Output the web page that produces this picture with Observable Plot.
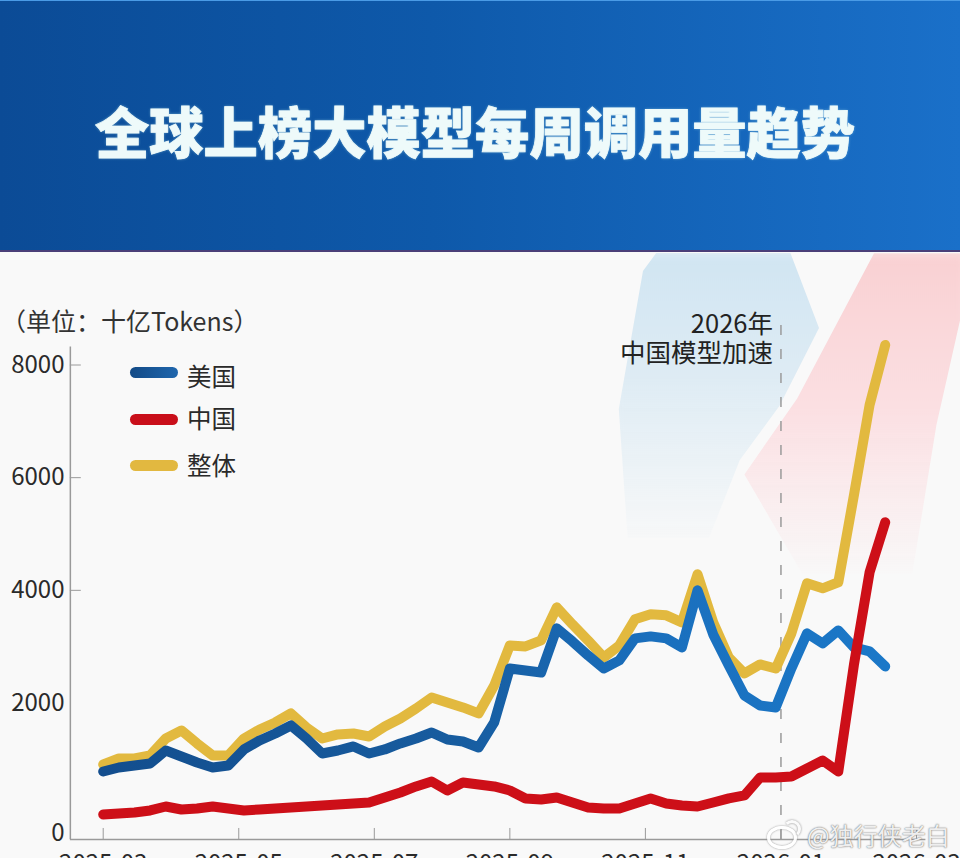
<!DOCTYPE html>
<html lang="zh">
<head>
<meta charset="utf-8">
<script src="https://cdn.jsdelivr.net/npm/d3@7"></script>
<script src="https://cdn.jsdelivr.net/npm/@observablehq/plot@0.6"></script>
<style>
  html, body { margin: 0; padding: 0; width: 960px; height: 858px; overflow: hidden; background: #f9f9f9;
    font-family: "Noto Sans CJK SC", sans-serif; }
  #page { position: relative; width: 960px; height: 858px; overflow: hidden; }
  #header { position: absolute; left: 0; top: 0; width: 960px; height: 252px; box-sizing: border-box;
    background: linear-gradient(90deg, #0b4b96 0%, #0e59aa 45%, #1a70c9 100%);
    border-top: 1px solid #4a9be6; border-bottom: 2px solid #4a3f78; }
  #title { position: absolute; left: 95px; top: 95px; margin: 0; font-size: 54.3px; line-height: 68px; font-weight: 900;
    color: #eefafa; white-space: nowrap; -webkit-text-stroke: 0.8px #eefafa; text-shadow: 0 0 3px rgba(190,240,240,.6); }
  .bg { position: absolute; filter: blur(6px); }
  #bgBlue { left: 610px; top: 250px; width: 220px; height: 300px;
    background: linear-gradient(180deg, #d0e5f2 0%, #dfecf4 45%, rgba(235,243,248,0) 100%);
    clip-path: polygon(15% 7%, 21% 1%, 82% 1%, 95% 26%, 77% 52%, 59% 70%, 45% 96%, 8% 96%, 4% 53%); }
  #bgPink { left: 730px; top: 250px; width: 240px; height: 330px;
    background: linear-gradient(180deg, #f9d0d2 0%, #fbe0e3 50%, rgba(250,238,240,0) 100%);
    clip-path: polygon(60% 1%, 100% 1%, 100% 8%, 86% 53%, 76% 98%, 30% 98%, 6% 68%, 28% 45%); }
  #header { z-index: 2; }
  #chart { position: absolute; left: 0; top: 252px; }
  #chart svg { overflow: visible; background: transparent; display: block; }
  #unit { position: absolute; left: 1px; top: 302px; font-size: 25px; line-height: 36px; color: #333; white-space: nowrap; }
  .lg { position: absolute; left: 187px; font-size: 24.5px; line-height: 34px; color: #2a2a2a; white-space: nowrap; }
  .sw { position: absolute; left: 130px; width: 48px; height: 11px; border-radius: 5.5px; }
  #wm { position: absolute; left: 807px; top: 818px; font-size: 24px; line-height: 34px; color: rgba(255,255,255,.9);
    white-space: nowrap; text-shadow: 0 0 1px #777, 0 0 2px #888; }
  #wmLogo { position: absolute; left: 767px; top: 826px; width: 24px; height: 17px; border-radius: 50%;
    border: 3px solid rgba(255,255,255,.95); box-shadow: 0 0 2px #888, inset 0 0 2px #888; }
  #wmArc { position: absolute; left: 783px; top: 820px; width: 12px; height: 12px; border-radius: 50%;
    border-top: 3px solid rgba(255,255,255,.95); border-right: 3px solid rgba(255,255,255,.95); border-left: 3px solid transparent; border-bottom: 3px solid transparent;
    filter: drop-shadow(0 0 1px #888); }
</style>
</head>
<body>
<div id="page">
  <div id="header"><h1 id="title"></h1></div>
  <div class="bg" id="bgBlue"></div>
  <div class="bg" id="bgPink"></div>
  <div id="chart"></div>
  <div id="unit"></div>
  <div id="legend"></div>
  <div id="wmLogo"></div>
  <div id="wmArc"></div>
  <div id="wm"></div>
</div>
<script>
const titleText = "全球上榜大模型每周调用量趋势";
const unitText = "（单位：十亿Tokens）";
const noteLines = ["2026年", "中国模型加速"];
const watermark = "@独行侠老白";
const seriesNames = ["美国", "中国", "整体"];
const xTickLabels = ["2025-03", "2025-05", "2025-07", "2025-09", "2025-11", "2026-01", "2026-03"];
const yTicks = [0, 2000, 4000, 6000, 8000];
const yMarks = [4000, 6000, 8000];

const usa = [950,1012,1042,1073,1272,1180,1088,1012,1042,1288,1426,1533,1656,1456,1226,1272,1334,1226,1288,1380,1456,1548,1441,1410,1318,1702,2613,2578,2542,3325,3093,2845,2613,2756,3147,3182,3147,2987,4000,3218,2667,2133,1962,1932,2613,3236,3058,3289,2987,2916,2649];
const china = [291,307,322,353,414,368,383,414,383,353,368,383,399,414,429,445,460,475,552,629,721,797,659,782,751,721,659,537,521,552,475,399,383,383,460,537,460,429,414,475,537,583,858,858,874,996,1119,950,2680,4320,5209];
const total = [1058,1150,1150,1196,1456,1579,1380,1196,1196,1456,1594,1702,1840,1625,1456,1518,1533,1487,1640,1763,1916,2098,2009,1932,1840,2311,3022,3005,3111,3698,3396,3111,2809,3022,3485,3574,3556,3431,4285,3431,2809,2525,2685,2613,3236,4125,4036,4143,5689,7290,8356];

const weeksPerTick = 52 / 6;
const xTickValues = xTickLabels.map((_, i) => i * weeksPerTick);
const accelWeek = 5 * weeksPerTick;
const toRows = (values) => values.map((v, week) => ({week, v}));

document.getElementById("title").textContent = titleText;
document.getElementById("unit").textContent = unitText;
document.getElementById("wm").textContent = watermark;

const legend = document.getElementById("legend");
const swatches = [
  {top: 367, bg: "linear-gradient(90deg,#134a86,#1f66ad)", textTop: 359},
  {top: 414, bg: "#c90f1a", textTop: 401},
  {top: 460, bg: "#e2b840", textTop: 448}
];
seriesNames.forEach((name, i) => {
  const s = document.createElement("div");
  s.className = "sw"; s.style.top = swatches[i].top + "px"; s.style.background = swatches[i].bg;
  legend.appendChild(s);
  const t = document.createElement("div");
  t.className = "lg"; t.style.top = swatches[i].textTop + "px"; t.textContent = name;
  legend.appendChild(t);
});

const AXIS = "#9a9a9a";
const axisValue = -45, axisWeek = -2.1;

const gradient = () => {
  const ns = "http://www.w3.org/2000/svg";
  const defs = document.createElementNS(ns, "defs");
  const g = document.createElementNS(ns, "linearGradient");
  g.setAttribute("id", "usaGrad");
  [["0%", "#134e8e"], ["45%", "#175c9f"], ["70%", "#1a6fbd"], ["100%", "#1b78c8"]].forEach(([o, c]) => {
    const st = document.createElementNS(ns, "stop");
    st.setAttribute("offset", o); st.setAttribute("stop-color", c);
    g.appendChild(st);
  });
  defs.appendChild(g);
  return defs;
};

const lineOpts = {x: "week", y: "v", strokeWidth: 10, strokeLinecap: "round", strokeLinejoin: "round"};

const plot = Plot.plot({
  width: 960,
  height: 606,
  marginLeft: 70,
  marginRight: 0,
  marginTop: 0,
  marginBottom: 19,
  style: {fontFamily: '"Noto Sans CJK SC", sans-serif', fontSize: "24px", color: "#2a2a2a", background: "transparent", overflow: "visible"},
  x: {type: "linear", domain: [0, 52], range: [102.7, 916]},
  y: {type: "linear", domain: [axisValue, 0, 2000, 8000], range: [587, 581, 450.5, 112.5]},
  marks: [
    gradient,
    Plot.ruleX([accelWeek], {y1: axisValue, y2: 8925, stroke: "#9b9b9b", strokeWidth: 1.5, strokeDasharray: "10 14"}),
    Plot.ruleX([axisWeek], {y1: axisValue, y2: 8321, stroke: AXIS, strokeWidth: 1.5}),
    Plot.ruleY([axisValue], {x1: axisWeek, x2: 52.6, stroke: AXIS, strokeWidth: 1.5}),
    Plot.ruleX(xTickValues, {y1: axisValue, y2: 77, stroke: AXIS, strokeWidth: 1}),
    Plot.ruleY(yMarks, {x1: axisWeek, x2: -1.4, stroke: AXIS, strokeWidth: 1}),
    Plot.axisY({ticks: yTicks, tickSize: 0, tickPadding: 6, label: null, tickFormat: (d) => String(d), fontSize: 24}),
    Plot.axisX({ticks: xTickValues, tickSize: 0, tickPadding: 15, label: null, fontSize: 24,
      tickFormat: (d) => xTickLabels[Math.round(d / weeksPerTick)]}),
    Plot.line(toRows(total), {...lineOpts, stroke: "#e2b93f"}),
    Plot.line(toRows(usa), {...lineOpts, stroke: "url(#usaGrad)"}),
    Plot.line(toRows(china), {...lineOpts, stroke: "#cd0f18"}),
    Plot.text(noteLines, {x: () => accelWeek, y: (d, i) => [8712, 8197][i], text: (d) => d, textAnchor: "end", dx: -8, fontSize: 25.5, fill: "#222"})
  ]
});
document.getElementById("chart").appendChild(plot);
</script>
</body>
</html>
